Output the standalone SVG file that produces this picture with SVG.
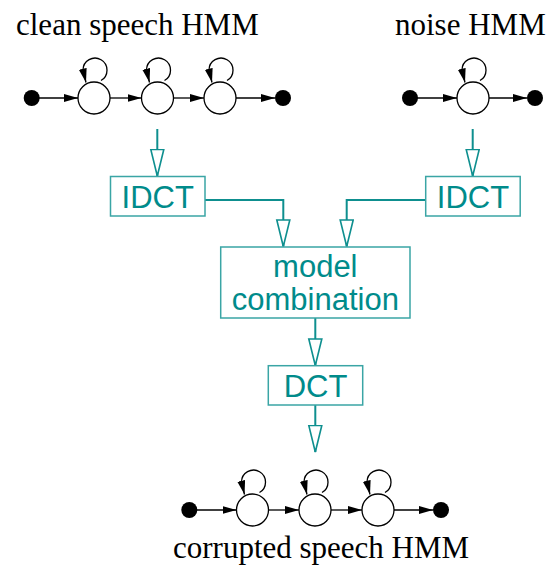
<svg xmlns="http://www.w3.org/2000/svg" width="550" height="568" viewBox="0 0 550 568">
<style>
.lbl{font-family:"Liberation Serif","Times New Roman",serif;font-size:31px;fill:#000}
.bt{font-family:"Liberation Sans",Arial,sans-serif;font-size:31px;fill:#008b8b;text-anchor:middle}
.box{fill:#fff;stroke:#3aa5a5;stroke-width:1.5}
.flow{fill:none;stroke:#0e8f8f;stroke-width:2}
.st{fill:#fff;stroke:#000;stroke-width:1.3}
.dot{fill:#000}
.tr{fill:none;stroke:#000;stroke-width:1.3}
</style>
<defs>
<marker id="fa" markerUnits="userSpaceOnUse" markerWidth="15" markerHeight="9" refX="14" refY="4" orient="auto">
<path d="M0,0 L14,4 L0,8 z" fill="#000"/>
</marker>
<marker id="oa" markerUnits="userSpaceOnUse" markerWidth="29" markerHeight="16" refX="27.5" refY="7.5" orient="auto">
<path d="M1,1 L27.5,7.5 L1,14 z" fill="#fff" stroke="#0e8f8f" stroke-width="1.6"/>
</marker>
<g id="loop">
<path class="tr" d="M7,-17.5 A12,12 0 1 0 -11,-28 L-8,-15.5" marker-end="url(#fa)"/>
</g>
</defs>

<text class="lbl" x="16" y="35">clean speech HMM</text>
<text class="lbl" x="395" y="35">noise HMM</text>
<text class="lbl" x="173" y="558">corrupted speech HMM</text>

<g id="connectors">
<path class="flow" d="M157.3,129 V176" marker-end="url(#oa)"/>
<path class="flow" d="M472.7,129 V176" marker-end="url(#oa)"/>
<path class="flow" d="M205,200 H283.3 V246.5" marker-end="url(#oa)"/>
<path class="flow" d="M425.7,200 H346.7 V246.5" marker-end="url(#oa)"/>
<path class="flow" d="M315.3,318 V365.5" marker-end="url(#oa)"/>
<path class="flow" d="M315.3,405 V452" marker-end="url(#oa)"/>
<!-- clean HMM transitions -->
<path class="tr" d="M31.7,98 H78" marker-end="url(#fa)"/>
<path class="tr" d="M110,98 H141.5" marker-end="url(#fa)"/>
<path class="tr" d="M173.5,98 H204" marker-end="url(#fa)"/>
<path class="tr" d="M236,98 H275" marker-end="url(#fa)"/>
<use href="#loop" x="94" y="98"/>
<use href="#loop" x="157.5" y="98"/>
<use href="#loop" x="220" y="98"/>
<!-- noise HMM transitions -->
<path class="tr" d="M410,98 H457" marker-end="url(#fa)"/>
<path class="tr" d="M489,98 H527" marker-end="url(#fa)"/>
<use href="#loop" x="473" y="98"/>
<!-- corrupted HMM transitions -->
<path class="tr" d="M189.3,510 H236.5" marker-end="url(#fa)"/>
<path class="tr" d="M268.5,510 H299" marker-end="url(#fa)"/>
<path class="tr" d="M331,510 H362" marker-end="url(#fa)"/>
<path class="tr" d="M394,510 H433" marker-end="url(#fa)"/>
<use href="#loop" x="252.5" y="510"/>
<use href="#loop" x="315" y="510"/>
<use href="#loop" x="378" y="510"/>
</g>

<g id="clean-hmm">
<circle class="dot" cx="31.7" cy="98" r="8"/>
<circle class="st" cx="94" cy="98" r="16"/>
<circle class="st" cx="157.5" cy="98" r="16"/>
<circle class="st" cx="220" cy="98" r="16"/>
<circle class="dot" cx="283" cy="98" r="8"/>
</g>
<g id="noise-hmm">
<circle class="dot" cx="410" cy="98" r="8"/>
<circle class="st" cx="473" cy="98" r="16"/>
<circle class="dot" cx="535" cy="98" r="8"/>
</g>
<g id="corrupted-hmm">
<circle class="dot" cx="189.3" cy="510" r="8"/>
<circle class="st" cx="252.5" cy="510" r="16"/>
<circle class="st" cx="315" cy="510" r="16"/>
<circle class="st" cx="378" cy="510" r="16"/>
<circle class="dot" cx="441" cy="510" r="8"/>
</g>

<g id="idct-left">
<rect class="box" x="110.5" y="176.5" width="94.5" height="39.5"/>
<text class="bt" x="157.7" y="208">IDCT</text>
</g>
<g id="idct-right">
<rect class="box" x="425.7" y="176.5" width="94.5" height="39.5"/>
<text class="bt" x="473" y="208">IDCT</text>
</g>
<g id="model-combination">
<rect class="box" x="220.7" y="247" width="189.3" height="71"/>
<text class="bt" x="315.3" y="277">model</text>
<text class="bt" x="315.3" y="310">combination</text>
</g>
<g id="dct">
<rect class="box" x="268.3" y="365.7" width="94.4" height="39.3"/>
<text class="bt" x="315.5" y="397">DCT</text>
</g>
</svg>
